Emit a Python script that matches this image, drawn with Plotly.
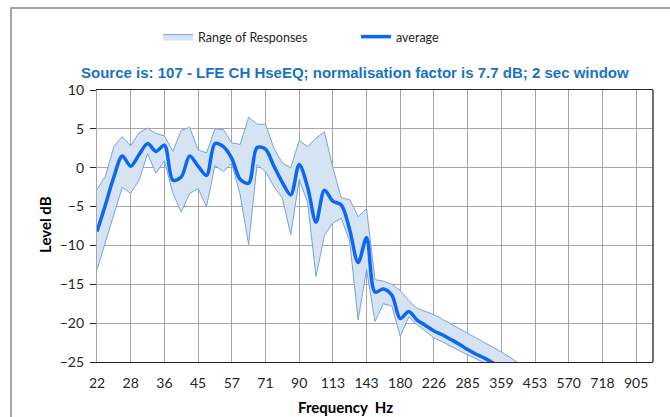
import math
import plotly.graph_objects as go

# 1/12-octave category frequencies (Hz)
freqs = [22.45, 23.78, 25.20, 26.70, 28.28, 29.97, 31.75, 33.64, 35.64, 37.76,
         40.00, 42.38, 44.90, 47.57, 50.40, 53.39, 56.57, 59.93, 63.50, 67.27,
         71.27, 75.51, 80.00, 84.76, 89.80, 95.14, 100.79, 106.78, 113.14, 119.86,
         126.99, 134.54, 142.54, 151.02, 160.00, 169.51, 179.59, 190.27, 201.59, 213.57,
         226.27, 239.73, 253.98, 269.09, 285.09, 302.04, 320.00, 339.03, 359.19, 380.55,
         403.17, 427.15, 452.55, 479.46, 507.97, 538.18, 570.18, 604.09, 640.00, 678.06,
         718.38, 761.09, 806.35, 854.30, 905.10, 958.92, 1015.94]

tick_labels = ["22", "28", "36", "45", "57", "71", "90", "113", "143", "180",
               "226", "285", "359", "453", "570", "718", "905"]

average = [-8.2, -4.8, -1.2, 1.5, 0.2, 1.7, 3.1, 2.1, 2.9, -1.6,
           -1.2, 1.5, 0.2, -1.0, 3.1, 2.7, 1.2, -1.5, -2.0, 2.6,
           2.4, 0.2, -1.9, -3.5, 0.4, -2.5, -7.0, -2.9, -4.3, -4.8,
           -8.0, -12.2, -9.0, -16.0, -15.6, -16.4, -19.4, -18.5, -19.6, -20.3,
           -21.0, -21.5, -22.1, -22.7, -23.4, -24.0, -24.5, -25.1, -25.7]

range_upper = [-2.8, -1.1, 2.7, 4.0, 2.8, 4.5, 5.1, 4.4, 4.1, 2.1,
               4.8, 5.2, 2.3, 1.9, 5.0, 4.9, 3.2, 3.0, 6.5, 5.6,
               5.6, 2.5, 0.6, 0.0, 3.5, 2.7, 3.8, 4.6, 0.0, -3.9,
               -4.1, -6.3, -5.3, -14.4, -14.6, -15.0, -15.8, -17.1, -18.1, -18.5,
               -18.9, -19.5, -20.1, -20.7, -21.3, -21.9, -22.4, -23.0, -23.7, -24.4,
               -25.1, -25.8]

range_lower = [-13.1, -9.5, -6.2, -2.5, -3.3, -1.6, 1.8, -0.7, 0.9, -3.3,
               -5.7, -3.3, -2.7, -5.0, 0.3, -0.5, 0.6, -3.5, -9.9, 0.4,
               -0.5, -2.4, -3.9, -8.6, -1.5, -4.5, -14.0, -8.7, -7.1, -6.5,
               -9.5, -19.6, -13.1, -19.8, -17.5, -17.8, -21.7, -19.2, -20.2, -21.0,
               -21.9, -22.4, -23.0, -23.6, -24.1, -24.6, -25.1, -25.6, -26.1, -26.6,
               -27.1, -27.6]

tick_vals = freqs[0:65:4]

band_line = "#78a2da"
band_fill = "rgba(214,227,242,1)"
avg_color = "#0a68f5"
grid = "#a6a6a6"
font_num = "Lato"

fig = go.Figure()
fig.add_trace(go.Scatter(
    x=freqs[:len(range_upper)], y=range_upper, mode="lines",
    line=dict(color=band_line, width=1), showlegend=False, hoverinfo="skip"))
fig.add_trace(go.Scatter(
    x=freqs[:len(range_lower)], y=range_lower, mode="lines",
    line=dict(color=band_line, width=1), fill="tonexty", fillcolor=band_fill,
    name="Range of Responses"))
fig.add_trace(go.Scatter(
    x=freqs[:len(average)], y=average, mode="lines",
    line=dict(color=avg_color, width=3.5, shape="spline", smoothing=0.9),
    name="average"))

fig.update_layout(
    width=670, height=417,
    margin=dict(l=97, r=17, t=90, b=55),
    paper_bgcolor="white", plot_bgcolor="white",
    font=dict(family=font_num, size=14, color="#262626"),
    showlegend=True,
    legend=dict(orientation="h", traceorder="normal",
                x=(158 - 97) / 556, xanchor="left", y=(362 - 37) / 272, yanchor="middle",
                entrywidth=153, font=dict(family=font_num, size=12.5, color="#262626"),
                bgcolor="rgba(0,0,0,0)"),
    xaxis=dict(type="log", range=[math.log10(freqs[0]), math.log10(freqs[-1])],
               tickmode="array", tickvals=tick_vals, ticktext=tick_labels,
               showgrid=True, gridcolor=grid, gridwidth=1.2,
               showline=True, linecolor="#262626", linewidth=1.3, mirror=True,
               ticks="", zeroline=False, ticklabelstandoff=8,
               tickfont=dict(family=font_num, size=14, color="#262626")),
    yaxis=dict(range=[-25, 10], tickmode="array", tickvals=[10, 5, 0, -5, -10, -15, -20, -25],
               showgrid=True, gridcolor=grid, gridwidth=1.2,
               showline=True, linecolor=grid, linewidth=1.2,
               ticks="outside", ticklen=6, tickcolor="#262626",
               zeroline=False, ticklabelstandoff=3,
               tickfont=dict(family=font_num, size=14, color="#262626")),
    shapes=[
        dict(type="line", xref="paper", yref="paper", x0=1, x1=1, y0=0, y1=1,
             line=dict(color="#262626", width=1.3)),
        dict(type="rect", xref="paper", yref="paper", x0=(11 - 97) / 556, x1=(700 - 97) / 556,
             y0=(362 - 440) / 272, y1=(362 - 8) / 272,
             line=dict(color="#8a8a8a", width=1.5), fillcolor="rgba(0,0,0,0)", layer="below"),
    ],
    annotations=[
        dict(text="<b>Source is: 107 - LFE CH HseEQ; normalisation factor is 7.7 dB; 2 sec window</b>",
             xref="paper", yref="paper", x=(355 - 97) / 556, y=(362 - 72) / 272,
             xanchor="center", yanchor="middle", showarrow=False,
             font=dict(family="Liberation Sans", size=15, color="#1a73c2")),
        dict(text="<b>Level dB</b>", xref="paper", yref="paper",
             x=(45 - 97) / 556, y=(362 - 225) / 272, textangle=-90,
             xanchor="center", yanchor="middle", showarrow=False,
             font=dict(family=font_num, size=15, color="#000000")),
        dict(text="<b>Frequency  Hz</b>", xref="paper", yref="paper",
             x=(345 - 97) / 556, y=(362 - 407) / 272,
             xanchor="center", yanchor="middle", showarrow=False,
             font=dict(family=font_num, size=15, color="#000000")),
    ],
)

fig.write_html("out.html", config={"displayModeBar": False},
               post_script="document.body.style.margin='0';")
